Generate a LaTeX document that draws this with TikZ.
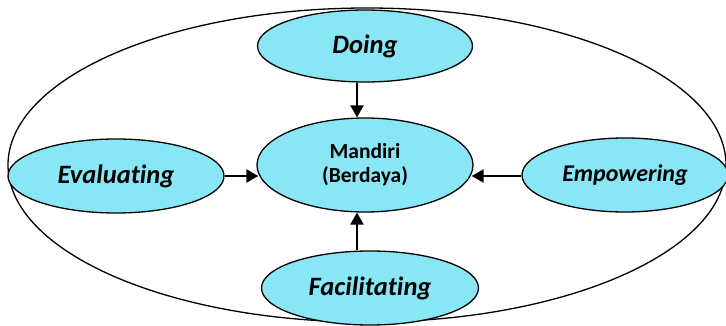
\documentclass[tikz,border=0pt]{standalone}
\usepackage{fontspec}
\setmainfont[Ligatures=NoCommon]{Carlito}
\usetikzlibrary{shapes.geometric,arrows.meta,calc}
\definecolor{cyanfill}{RGB}{137,230,244}
\tikzset{
  bubble/.style={draw=black, fill=cyanfill, ellipse, line width=1.3pt, inner sep=0pt,
    font=\bfseries\itshape\fontsize{26.5}{30}\selectfont},
  arr/.style={line width=2.2pt, -{Triangle[length=12pt,width=13pt]}},
  frame/.style={draw=black, ellipse, line width=1.3pt, inner sep=0pt}
}
\begin{document}
\begin{tikzpicture}[x=1pt,y=-1pt]
\useasboundingbox (0,0) rectangle (726,326);
\node[frame, minimum width=718pt, minimum height=314pt] (outer) at (367,165) {};
\node[bubble, minimum width=215pt, minimum height=72pt] (doing) at (365,46) {Doing};
\node[bubble, minimum width=216pt, minimum height=94pt, align=center,
  font=\bfseries\fontsize{21.5}{24}\selectfont] (mandiri) at (365,165) {Mandiri\\(Berdaya)};
\node[bubble, minimum width=216pt, minimum height=74pt] (evaluating) at (116,176) {Evaluating};
\node[bubble, minimum width=206pt, minimum height=74pt, font=\bfseries\itshape\fontsize{24}{28}\selectfont] (empowering) at (625,175) {Empowering};
\node[bubble, minimum width=217pt, minimum height=74pt] (facilitating) at (370,288) {Facilitating};
\draw[arr] ($(doing.south)+(-8,0)$) -- ($(mandiri.north)+(-8,0)$);
\draw[arr] ($(facilitating.north)+(-13,0)$) -- ($(mandiri.south)+(-8,0)$);
\draw[arr] (evaluating.east) -- ($(evaluating.east -| mandiri.west)+(2,0)$);
\draw[arr] ($(empowering.west)+(0,1)$) -- ($(empowering.west -| mandiri.east)+(-2,1)$);
\end{tikzpicture}
\end{document}
